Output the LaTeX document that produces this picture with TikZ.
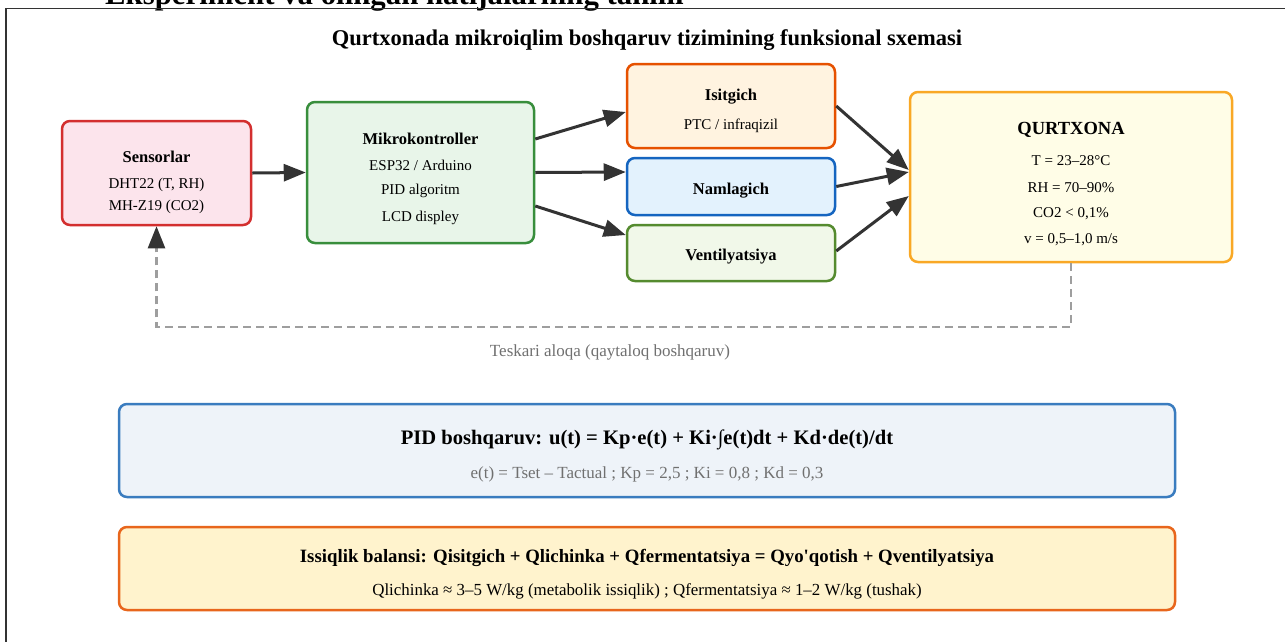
\documentclass[tikz,border=0pt]{standalone}
\usepackage{fontspec}
\setmainfont{Liberation Serif}
\newfontfamily\aposfont{Liberation Serif}
\usetikzlibrary{arrows.meta}
\definecolor{framegray}{HTML}{333333}
\definecolor{arrowgray}{HTML}{333333}
\definecolor{dashgray}{HTML}{9E9E9E}
\definecolor{subgray}{HTML}{707070}
\definecolor{sensfill}{HTML}{FCE4EC}
\definecolor{sensline}{HTML}{D32F2F}
\definecolor{mkfill}{HTML}{E8F5E9}
\definecolor{mkline}{HTML}{388E3C}
\definecolor{isfill}{HTML}{FFF3E0}
\definecolor{isline}{HTML}{E65100}
\definecolor{nmfill}{HTML}{E3F2FD}
\definecolor{nmline}{HTML}{1565C0}
\definecolor{vnfill}{HTML}{F1F8E9}
\definecolor{vnline}{HTML}{558B2F}
\definecolor{qrfill}{HTML}{FFFDE7}
\definecolor{qrline}{HTML}{F9A825}
\definecolor{pidfill}{HTML}{EEF3F9}
\definecolor{pidline}{HTML}{3A7CBF}
\definecolor{htfill}{HTML}{FFF3CD}
\definecolor{htline}{HTML}{E8661C}
\tikzset{
  box/.style={draw, rounded corners=8pt, line width=2.5pt, inner sep=0pt},
  ttl/.style={font=\bfseries\fontsize{16.5}{19}\selectfont, inner sep=0pt},
  bigttl/.style={font=\bfseries\fontsize{18.5}{21}\selectfont, inner sep=0pt},
  txt/.style={font=\fontsize{15}{17}\selectfont, inner sep=0pt},
  graytxt/.style={font=\fontsize{17}{19}\selectfont, text=subgray, inner sep=0pt},
  arr/.style={-{Triangle[length=22pt,width=17pt]}, line width=3pt, draw=arrowgray},
  fbline/.style={-{Triangle[length=22pt,width=17pt,color=arrowgray]}, line width=2.5pt, draw=dashgray, dash pattern=on 8pt off 5pt}
}
\begin{document}
\begin{tikzpicture}[x=1pt,y=-1pt]
\useasboundingbox (0,0) rectangle (1285,641);
\clip (0,0) rectangle (1285,641);
\fill[white] (0,0) rectangle (1285,641);
% cut-off page heading
\node[anchor=base west, font=\bfseries\fontsize{30.8}{33}\selectfont, inner sep=0pt] (hdr) at (105,4) {Eksperiment va olingan natijalarning tahlili};
% frame
\draw[line width=1.8pt, draw=framegray] (6,660) -- (6,8.5) -- (1300,8.5);
% title
\node[font=\bfseries\fontsize{22.5}{25}\selectfont, inner sep=0pt] (title) at (647,40) {Qurtxonada mikroiqlim boshqaruv tizimining funksional sxemasi};

% boxes
\node[box, draw=sensline, fill=sensfill, minimum width=189pt, minimum height=104pt] (sens) at (156.5,173) {};
\node[box, draw=mkline, fill=mkfill, minimum width=227pt, minimum height=141pt] (mk) at (420.5,172.5) {};
\node[box, draw=isline, fill=isfill, minimum width=208pt, minimum height=84pt] (isit) at (731,106) {};
\node[box, draw=nmline, fill=nmfill, minimum width=208pt, minimum height=57pt] (naml) at (731,186.5) {};
\node[box, draw=vnline, fill=vnfill, minimum width=208pt, minimum height=56pt] (vent) at (731,253) {};
\node[box, draw=qrline, fill=qrfill, minimum width=322pt, minimum height=170pt] (qurt) at (1071,177) {};

% box texts
\node[ttl] (t-sens) at (156.5,157) {Sensorlar};
\node[txt] (t-sens1) at (156.5,185) {DHT22 (T, RH)};
\node[txt] (t-sens2) at (156.5,207) {MH-Z19 (CO2)};

\node[ttl] (t-mk) at (420.5,139) {Mikrokontroller};
\node[txt] (t-mk1) at (420.5,165) {ESP32 / Arduino};
\node[txt] (t-mk2) at (420.5,191) {PID algoritm};
\node[txt] (t-mk3) at (420.5,218) {LCD displey};

\node[ttl] (t-is) at (731,97) {Isitgich};
\node[txt] (t-is1) at (731,126) {PTC / infraqizil};

\node[ttl] (t-nm) at (731,191) {Namlagich};
\node[ttl] (t-vn) at (731,257) {Ventilyatsiya};

\node[bigttl] (t-qr) at (1071,130) {QURTXONA};
\node[txt] (t-qr1) at (1071,161) {T = 23–28°C};
\node[txt] (t-qr2) at (1071,188) {RH = 70–90\%};
\node[txt] (t-qr3) at (1071,214) {CO2 < 0,1\%};
\node[txt] (t-qr4) at (1071,240) {v = 0,5–1,0 m/s};

% arrows
\draw[arr] (sens.east) -- (mk.west);
\draw[arr] ([yshift=33.5pt]mk.east) -- ([yshift=-6pt]isit.west);
\draw[arr] (mk.east) -- ([yshift=14.5pt]naml.west);
\draw[arr] ([yshift=-33.5pt]mk.east) -- ([yshift=18pt]vent.west);
\draw[arr] ([yshift=0pt]isit.east) -- ([yshift=7pt]qurt.west);
\draw[arr] ([yshift=0pt]naml.east) -- ([yshift=5pt]qurt.west);
\draw[arr] ([yshift=2pt]vent.east) -- ([yshift=-19pt]qurt.west);

% feedback
\coordinate (fb1) at (1071,327);
\coordinate (fb2) at (156.5,327);
\draw[fbline] (qurt.south) -- (fb1) -- (fb2) -- (sens.south);
\node[graytxt] (fblabel) at (610,352) {Teskari aloqa (qaytaloq boshqaruv)};

% PID box
\node[box, draw=pidline, fill=pidfill, minimum width=1056pt, minimum height=93pt] (pid) at (647,450.5) {};
\node[font=\bfseries\fontsize{20.6}{23}\selectfont, inner sep=0pt] (t-pid) at (647,440) {PID boshqaruv: u(t) = Kp·e(t) + Ki·∫e(t)dt + Kd·de(t)/dt};
\node[graytxt] (t-pid1) at (647,474) {e(t) = Tset – Tactual ; Kp = 2,5 ; Ki = 0,8 ; Kd = 0,3};

% heat balance box
\node[box, draw=htline, fill=htfill, minimum width=1056pt, minimum height=83pt] (heat) at (647,568.5) {};
\node[font=\bfseries\fontsize{18.8}{21}\selectfont, inner sep=0pt] (t-ht) at (647,558) {Issiqlik balansi: Qisitgich + Qlichinka + Qfermentatsiya = Qyo{\aposfont'}qotish + Qventilyatsiya};
\node[font=\fontsize{16.9}{19}\selectfont, inner sep=0pt] (t-ht1) at (647,591) {Qlichinka ≈ 3–5 W/kg (metabolik issiqlik) ; Qfermentatsiya ≈ 1–2 W/kg (tushak)};
\end{tikzpicture}
\end{document}
